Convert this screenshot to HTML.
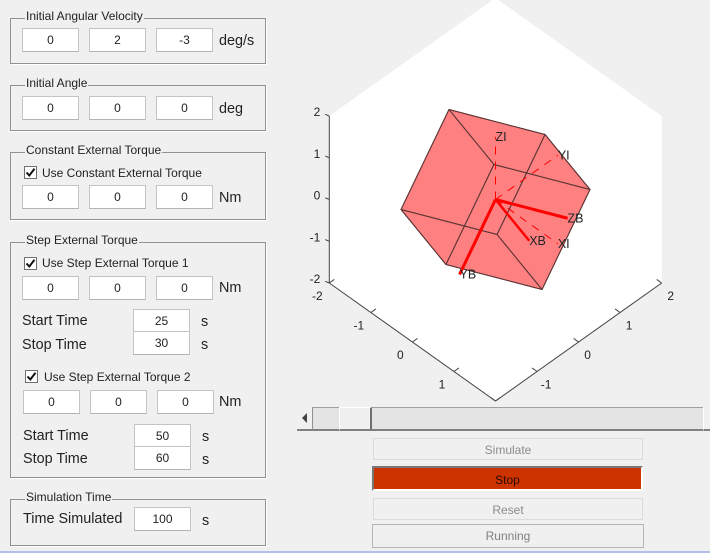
<!DOCTYPE html>
<html lang="en">
<head>
<meta charset="utf-8">
<title>Cube rotation simulator</title>
<style>
html,body{margin:0;padding:0;background:#f0f0f0;}
#root{position:relative;width:710px;height:553px;overflow:hidden;background:#f0f0f0;font-family:"Liberation Sans",sans-serif;color:#222;filter:blur(.3px);}
#root div{position:absolute;box-sizing:border-box;}
.panel{left:10px;width:256px;border:1px solid #929292;box-shadow:1px 1px 0 #fff;}
.title{background:#f0f0f0;font-size:12px;line-height:14px;height:14px;padding:0 1px;white-space:nowrap;}
.in{background:#fff;border:1px solid #c4c4c4;border-bottom-color:#b4b4b4;font-size:12px;text-align:center;height:24px;line-height:22px;width:57px;}
.unit{font-size:14.4px;line-height:16px;white-space:nowrap;margin-top:1px;}
.cb{width:13px;height:13px;background:#fff;border:1px solid #707070;}
.cb svg{position:absolute;left:0;top:0;}
.cbl{font-size:12px;line-height:14px;white-space:nowrap;}
.btn{background:#f0f0f0;border:1px solid #dcdcdc;font-size:12px;color:#8c8c8c;text-align:center;}
svg{position:absolute;left:0;top:0;}
</style>
</head>
<body>
<div id="root">
<svg id="chart" width="710" height="553" viewBox="0 0 710 553"></svg>

<div class="panel" style="top:18px;height:46px"></div>
<div class="title" style="left:25px;top:9px">Initial Angular Velocity</div>
<div class="in" style="left:22px;top:28px">0</div>
<div class="in" style="left:89px;top:28px">2</div>
<div class="in" style="left:156px;top:28px">-3</div>
<div class="unit" style="left:219px;top:32px">deg/s</div>

<div class="panel" style="top:85px;height:46px"></div>
<div class="title" style="left:25px;top:76px">Initial Angle</div>
<div class="in" style="left:22px;top:96px">0</div>
<div class="in" style="left:89px;top:96px">0</div>
<div class="in" style="left:156px;top:96px">0</div>
<div class="unit" style="left:219px;top:100px">deg</div>

<div class="panel" style="top:152px;height:68px"></div>
<div class="title" style="left:25px;top:143px">Constant External Torque</div>
<div class="cb" style="left:24px;top:166px"><svg width="11" height="11" viewBox="0 0 11 11"><path d="M1.5 5.5L4.3 8.5L9.5 1.8" fill="none" stroke="#111" stroke-width="2"/></svg></div>
<div class="cbl" style="left:42px;top:166px">Use Constant External Torque</div>
<div class="in" style="left:22px;top:185px">0</div>
<div class="in" style="left:89px;top:185px">0</div>
<div class="in" style="left:156px;top:185px">0</div>
<div class="unit" style="left:219px;top:189px">Nm</div>

<div class="panel" style="top:242px;height:236px"></div>
<div class="title" style="left:25px;top:233px">Step External Torque</div>
<div class="cb" style="left:24px;top:257px"><svg width="11" height="11" viewBox="0 0 11 11"><path d="M1.5 5.5L4.3 8.5L9.5 1.8" fill="none" stroke="#111" stroke-width="2"/></svg></div>
<div class="cbl" style="left:42px;top:256px">Use Step External Torque 1</div>
<div class="in" style="left:22px;top:276px">0</div>
<div class="in" style="left:89px;top:276px">0</div>
<div class="in" style="left:156px;top:276px">0</div>
<div class="unit" style="left:219px;top:279px">Nm</div>
<div class="unit" style="left:22px;top:312px">Start Time</div>
<div class="in" style="left:133px;top:309px">25</div>
<div class="unit" style="left:201px;top:313px">s</div>
<div class="unit" style="left:22px;top:336px">Stop Time</div>
<div class="in" style="left:133px;top:331px">30</div>
<div class="unit" style="left:201px;top:336px">s</div>

<div class="cb" style="left:25px;top:370px"><svg width="11" height="11" viewBox="0 0 11 11"><path d="M1.5 5.5L4.3 8.5L9.5 1.8" fill="none" stroke="#111" stroke-width="2"/></svg></div>
<div class="cbl" style="left:44px;top:370px">Use Step External Torque 2</div>
<div class="in" style="left:23px;top:390px">0</div>
<div class="in" style="left:90px;top:390px">0</div>
<div class="in" style="left:157px;top:390px">0</div>
<div class="unit" style="left:219px;top:393px">Nm</div>
<div class="unit" style="left:23px;top:427px">Start Time</div>
<div class="in" style="left:134px;top:424px">50</div>
<div class="unit" style="left:202px;top:428px">s</div>
<div class="unit" style="left:23px;top:450px">Stop Time</div>
<div class="in" style="left:134px;top:446px">60</div>
<div class="unit" style="left:202px;top:451px">s</div>

<div class="panel" style="top:499px;height:47px"></div>
<div class="title" style="left:25px;top:490px">Simulation Time</div>
<div class="unit" style="left:23px;top:510px">Time Simulated</div>
<div class="in" style="left:134px;top:507px">100</div>
<div class="unit" style="left:202px;top:512px">s</div>

<div style="left:297px;top:407px;width:413px;height:24px;background:#e4e4e4;border-top:1px solid #a0a0a0;border-bottom:2px solid #808080"></div>
<div style="left:297px;top:407px;width:16px;height:24px;background:#f0f0f0;border-right:1px solid #909090;border-bottom:2px solid #808080"><svg width="14" height="22" viewBox="0 0 14 22"><path d="M10 6L5 11L10 16Z" fill="#444"/></svg></div>
<div style="left:339px;top:407px;width:33px;height:24px;background:#f0f0f0;border-top:1px solid #fff;border-left:1px solid #fff;border-right:2px solid #707070;border-bottom:2px solid #808080"></div>
<div style="left:703px;top:407px;width:7px;height:24px;background:#f0f0f0;border-left:1px solid #fff;border-bottom:2px solid #808080"></div>

<div class="btn" style="left:373px;top:438px;width:270px;height:22px;line-height:22px">Simulate</div>
<div class="btn" style="left:372px;top:466px;width:271px;height:25px;line-height:25px;background:#cc3300;color:#2a0a00;border:2px solid #cc3300;border-top-color:#777;border-left-color:#777;border-right-color:#fff;border-bottom-color:#fff">Stop</div>
<div class="btn" style="left:373px;top:498px;width:270px;height:22px;line-height:22px">Reset</div>
<div class="btn" style="left:372px;top:524px;width:272px;height:24px;line-height:22px;border-color:#b4b4b4;color:#808080">Running</div>
<div style="left:0;top:551px;width:710px;height:2px;background:#b4bce8"></div>
</div>

<script>
// Axis limits and tick values
const axisMin = -2;
const axisMax = 2;
const tickValues = [-2, -1, 0, 1, 2];
const xTickLabels = [-2, -1, 0, 1];
const yTickLabels = [-1, 0, 1, 2];
const zTickLabels = [-2, -1, 0, 1, 2];
// Body frame unit vectors in inertial coordinates (x, y, z)
const bodyX = [0.104, 0.437, -0.894];
const bodyY = [0.305, -0.882, -0.359];
const bodyZ = [0.952, 0.204, 0.229];
const bodyAxisLength = 1.5;
const inertialAxisLength = 1.5;
const cubeHalfSize = 1;

const svg = document.getElementById('chart');
const NS = 'http://www.w3.org/2000/svg';
// Projection: data units to screen pixels
function px(x, y) { return 495.5 + 41.55 * (x + y); }
function py(x, y, z) { return 199.5 + 29.5 * (x - y) - 41.75 * z; }
function make(tag, attrs) {
  const el = document.createElementNS(NS, tag);
  for (const k in attrs) el.setAttribute(k, attrs[k]);
  svg.appendChild(el);
  return el;
}
function seg(a, b, stroke, width, dash) {
  const attrs = { x1: px(a[0], a[1]), y1: py(a[0], a[1], a[2]), x2: px(b[0], b[1]), y2: py(b[0], b[1], b[2]), stroke: stroke, 'stroke-width': width };
  if (dash) attrs['stroke-dasharray'] = dash;
  return make('line', attrs);
}
function label(txt, x, y, anchor, size) {
  const t = make('text', { x: x, y: y, 'text-anchor': anchor, 'font-size': size, fill: '#222', 'font-family': '"Liberation Sans", sans-serif', 'dominant-baseline': 'central' });
  t.textContent = txt;
  return t;
}
function pts(list) { return list.map(p => px(p[0], p[1]) + ',' + py(p[0], p[1], p[2])).join(' '); }

// Plot background: silhouette of the 3D axes box
const bg = make('polygon', { points: pts([
  [axisMin, axisMin, axisMax], [axisMin, axisMax, axisMax], [axisMax, axisMax, axisMax],
  [axisMax, axisMax, axisMin], [axisMax, axisMin, axisMin], [axisMin, axisMin, axisMin]
]), fill: '#fff' });



// Axis lines
const axisColor = '#444';
const zAxis = seg([axisMin, axisMin, axisMin], [axisMin, axisMin, axisMax], axisColor, 1);


const xAxis = seg([axisMin, axisMin, axisMin], [axisMax, axisMin, axisMin], axisColor, 1);


const yAxis = seg([axisMax, axisMin, axisMin], [axisMax, axisMax, axisMin], axisColor, 1);



// Tick marks
tickValues.forEach(v => {
  const tx = seg([v, axisMin, axisMin], [v, axisMin + 0.12, axisMin], axisColor, 1);
  
  
  const ty = seg([axisMax, v, axisMin], [axisMax - 0.12, v, axisMin], axisColor, 1);
  
  
  const tz = seg([axisMin, axisMin, v], [axisMin - 0.05, axisMin - 0.05, v + 0.04], axisColor, 1);
  
  
});

// Tick labels
xTickLabels.forEach(v => {
  const t = label(v, px(v, axisMin) - 12, py(v, axisMin, axisMin) + 13, 'middle', 12);
  
  
});
yTickLabels.forEach(v => {
  const t = label(v, px(axisMax, v) + 9, py(axisMax, v, axisMin) + 13, 'middle', 12);
  
  
});
zTickLabels.forEach(v => {
  const t = label(v, px(axisMin, axisMin) - 9, py(axisMin, axisMin, v) - 4, 'end', 12);
  
  
});

// Cube geometry from the body frame
function bodyPoint(a, b, c) {
  return [0, 1, 2].map(i => a * bodyX[i] + b * bodyY[i] + c * bodyZ[i]);
}
const s = cubeHalfSize;
function corner(sx, sy, sz) { return bodyPoint(sx * s, sy * s, sz * s); }
const faceSigns = [
  [[1, -1, -1], [-1, -1, -1], [-1, -1, 1], [1, -1, 1]],
  [[1, -1, -1], [1, -1, 1], [1, 1, 1], [1, 1, -1]],
  [[1, -1, -1], [1, 1, -1], [-1, 1, -1], [-1, -1, -1]],
  [[-1, 1, 1], [-1, -1, 1], [-1, -1, -1], [-1, 1, -1]],
  [[-1, 1, 1], [-1, 1, -1], [1, 1, -1], [1, 1, 1]],
  [[-1, 1, 1], [1, 1, 1], [1, -1, 1], [-1, -1, 1]]
];
faceSigns.forEach(f => {
  const face = make('polygon', { points: pts(f.map(c => corner(c[0], c[1], c[2]))), fill: '#ff8080' });
  
  
});
faceSigns.forEach(f => {
  const outline = make('polygon', { points: pts(f.map(c => corner(c[0], c[1], c[2]))), fill: 'none', stroke: '#5e3636', 'stroke-width': 1, 'stroke-linejoin': 'round' });
  
  
});

// Inertial axes (dashed)
const origin = [0, 0, 0];
const xi = seg(origin, [inertialAxisLength, 0, 0], '#ff0000', 1, '8 7');


const yi = seg(origin, [0, inertialAxisLength, 0], '#ff0000', 1, '8 7');


const zi = seg(origin, [0, 0, inertialAxisLength], '#ff0000', 1, '8 7');



// Body axes (solid)
function tip(v, len) { return v.map(c => c * len); }
const xbTip = tip(bodyX, bodyAxisLength);
const ybTip = tip(bodyY, bodyAxisLength);
const zbTip = tip(bodyZ, bodyAxisLength);
const xb = seg(origin, xbTip, '#ff0000', 2.5);


const yb = seg(origin, ybTip, '#ff0000', 3);


const zb = seg(origin, zbTip, '#ff0000', 3);



// Axis name labels at the tips
function tipLabel(txt, p) { return label(txt, px(p[0], p[1]), py(p[0], p[1], p[2]), 'start', 12.5); }
const lxi = tipLabel('XI', [inertialAxisLength, 0, 0]);


const lyi = tipLabel('YI', [0, inertialAxisLength, 0]);


const lzi = tipLabel('ZI', [0, 0, inertialAxisLength]);


const lxb = tipLabel('XB', xbTip);


const lyb = tipLabel('YB', ybTip);


const lzb = tipLabel('ZB', zbTip);


</script>
</body>
</html>
